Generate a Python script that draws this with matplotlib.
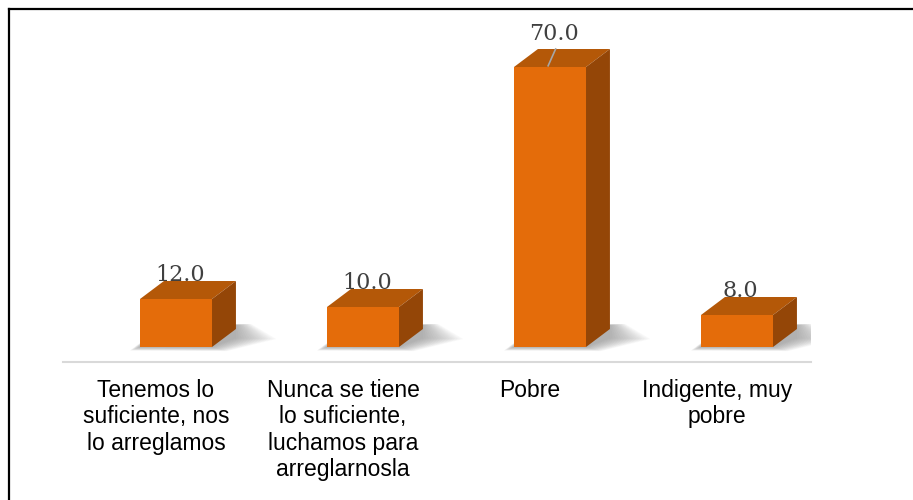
import matplotlib.pyplot as plt
from matplotlib.patches import Polygon
from matplotlib.lines import Line2D

# data
categories = ['Tenemos lo\nsuficiente, nos\nlo arreglamos',
              'Nunca se tiene\nlo suficiente,\nluchamos para\narreglarnosla',
              'Pobre',
              'Indigente, muy\npobre']
values = [12.0, 10.0, 70.0, 8.0]

# 3d look (in data units)
half_w = 0.1925      # half width of front face
shift = 0.107        # perspective shift of the bars
dx, dy = 0.128, 4.5  # depth offset
c_front = '#E46C0A'
c_top = '#B45808'
c_side = '#944607'

fig = plt.figure(figsize=(9.13, 5.0), dpi=100)
ax = fig.add_axes([62.5 / 913, 138 / 500, 748 / 913, 335 / 500])
ax.set_xlim(-0.5, 3.5)
ax.set_ylim(-3.75, 80)

for i, v in enumerate(values):
    x0 = i + shift - half_w
    x1 = i + shift + half_w
    # soft shadow: stacked translucent footprints, spreading to the right
    n = 16
    for k in range(n):
        e = 0.009 * k
        f = 0.17 * k
        shadow = Polygon([(x0 - e * 0.4, -f * 0.35), (x1 + e * 0.6, -f * 0.4),
                          (x1 + dx + e * 1.6, dy * 0.5 - f * 0.1),
                          (x1 + dx + e * 0.6, dy + 1.0 + f * 0.1), (x0 + dx, dy + 1.0)],
                         closed=True, facecolor='#707070', edgecolor='none',
                         alpha=0.045, zorder=1)
        ax.add_patch(shadow)
    front = Polygon([(x0, 0), (x1, 0), (x1, v), (x0, v)], closed=True,
                    facecolor=c_front, edgecolor='none', zorder=3)
    top = Polygon([(x0, v), (x1, v), (x1 + dx, v + dy), (x0 + dx, v + dy)], closed=True,
                  facecolor=c_top, edgecolor='none', zorder=3)
    side = Polygon([(x1, 0), (x1 + dx, dy), (x1 + dx, v + dy), (x1, v)], closed=True,
                   facecolor=c_side, edgecolor='none', zorder=3)
    ax.add_patch(front)
    ax.add_patch(top)
    ax.add_patch(side)

    # data labels
    lx = i + shift + 0.02
    if v == max(values):
        ly = v + dy + 2.2
        ax.plot([lx + 0.01, i + shift - 0.01], [v + dy, v + 0.3],
                color='#A6A6A6', linewidth=1.2, zorder=4)
    else:
        ly = v + dy + 0.1
    ax.text(lx, ly, f'{v:.1f}', ha='center', va='baseline', fontsize=16,
            family='DejaVu Serif', color='#404040', zorder=5)

ax.set_xticks(range(len(categories)))
ax.set_xticklabels(categories, fontsize=16.5, family='Liberation Sans',
                   color='black', linespacing=1.2, va='top')
ax.tick_params(axis='x', length=0, pad=12)
ax.set_yticks([])
for s in ['top', 'left', 'right']:
    ax.spines[s].set_visible(False)
ax.spines['bottom'].set_color('#D9D9D9')
ax.spines['bottom'].set_linewidth(1.5)
ax.patch.set_alpha(0)

# outer border (left and top)
fig.add_artist(Line2D([8.5 / 913, 8.5 / 913], [0, 491 / 500], color='black',
                      linewidth=1.6, transform=fig.transFigure))
fig.add_artist(Line2D([8.5 / 913, 1], [491 / 500, 491 / 500], color='black',
                      linewidth=1.6, transform=fig.transFigure))

plt.savefig('out.png', dpi=100)
plt.close()
